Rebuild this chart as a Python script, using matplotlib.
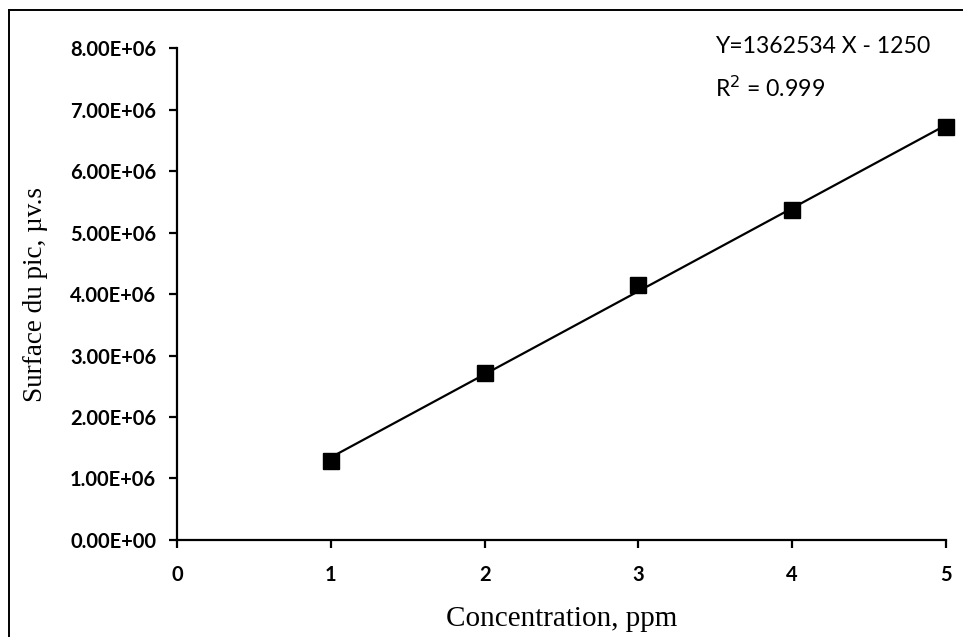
import numpy as np
import matplotlib
matplotlib.use("Agg")
import matplotlib.pyplot as plt
from matplotlib.lines import Line2D
from matplotlib.ticker import FuncFormatter

# calibration data
conc = [1, 2, 3, 4, 5]
area = [1.285e6, 2.715e6, 4.146e6, 5.366e6, 6.715e6]
x_ticks = [0, 1, 2, 3, 4, 5]
y_ticks = [0, 1e6, 2e6, 3e6, 4e6, 5e6, 6e6, 7e6, 8e6]
eq_text = "Y=1362534 X - 1250"
r2_text = "R$^2$ = 0.999"

fig = plt.figure(figsize=(9.63, 6.37), dpi=100)
ax = fig.add_axes([0.1838, 0.1523, 0.7986, 0.7723])

# trendline from a linear fit of the points
slope, icpt = np.polyfit(conc, area, 1)
xf = np.array([conc[0], conc[-1]])
ax.plot(xf, slope * xf + icpt, color="black", lw=1.6, zorder=2, clip_on=False)
ax.plot(conc, area, ls="none", marker="s", ms=12, color="black", zorder=3, clip_on=False)

ax.set_xlim(0, 5)
ax.set_ylim(0, 8e6)
ax.set_xticks(x_ticks)
ax.set_yticks(y_ticks)

def sci(v, pos):
    return "%.2E" % v

ax.yaxis.set_major_formatter(FuncFormatter(sci))

for s in ["top", "right"]:
    ax.spines[s].set_visible(False)
for s in ["left", "bottom"]:
    ax.spines[s].set_linewidth(1.6)

ax.tick_params(axis="both", direction="out", length=6, width=1.6, color="black")
ax.tick_params(axis="y", pad=9)
ax.tick_params(axis="x", pad=12)
for lab in ax.get_xticklabels() + ax.get_yticklabels():
    lab.set_fontfamily("Lato")
    lab.set_fontweight("bold")
    lab.set_fontsize(14.5)

ax.set_xlabel("Concentration, ppm", fontfamily="Liberation Serif", fontsize=21, labelpad=15)
ax.set_ylabel("Surface du pic, µv.s", fontfamily="Liberation Serif", fontsize=19.5, labelpad=16)

ax.text(715 / 963, 1 - 53 / 637, eq_text, transform=fig.transFigure,
        fontfamily="Lato", fontsize=16.6, va="baseline", ha="left")
ax.text(715 / 963, 1 - 97 / 637, r2_text, transform=fig.transFigure,
        fontfamily="Lato", fontsize=16.6, va="baseline", ha="left")

# outer chart border (only top and left show in the crop)
fig.add_artist(Line2D([9 / 963, 9 / 963], [0, 1 - 10 / 637], color="black", lw=1.4,
                      transform=fig.transFigure))
fig.add_artist(Line2D([9 / 963, 1], [1 - 10 / 637, 1 - 10 / 637], color="black", lw=1.4,
                      transform=fig.transFigure))

fig.savefig("out.png", dpi=100)
